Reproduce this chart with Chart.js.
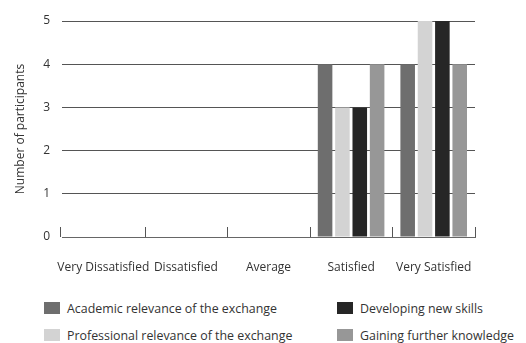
<!DOCTYPE html>
<html>
<head>
<meta charset="utf-8">
<script src="https://cdn.jsdelivr.net/npm/chart.js@4/dist/chart.umd.min.js"></script>
<style>
  html, body { margin: 0; padding: 0; background: #fff; }
  #wrap { position: relative; width: 526px; height: 343px; font-family: "Open Sans", sans-serif; }
  #chart { position: absolute; left: 0; top: 0; }
  #legend { position: absolute; left: 44px; top: 300px; display: grid;
            grid-template-columns: 293px 200px; row-gap: 11px; font-size: 12.4px; color: #333; }
  .item { display: flex; align-items: center; height: 16px; white-space: nowrap; }
  .box { width: 16px; height: 12px; margin-right: 7px; }
</style>
</head>
<body>
<div id="wrap">
  <canvas id="chart" width="526" height="280"></canvas>
  <div id="legend"></div>
</div>
<script>
// Satisfaction ratings given by exchange participants
const categories = ["Very Dissatisfied", "Dissatisfied", "Average", "Satisfied", "Very Satisfied"];
const seriesNames = [
  "Academic relevance of the exchange",
  "Professional relevance of the exchange",
  "Developing new skills",
  "Gaining further knowledge"
];
const academic     = [0, 0, 0, 4, 4];
const professional = [0, 0, 0, 3, 5];
const developing   = [0, 0, 0, 3, 5];
const gaining      = [0, 0, 0, 4, 4];
const yTicks = [0, 1, 2, 3, 4, 5];

const colors = ["#6e6e6e", "#d3d3d3", "#262626", "#979797"];
const values = [academic, professional, developing, gaining];

// Small upward tick marks at the category boundaries on the baseline
const boundaryTicks = {
  id: "boundaryTicks",
  afterDatasetsDraw(chart) {
    const x = chart.scales.x, area = chart.chartArea, ctx = chart.ctx;
    const n = categories.length;
    const bounds = [area.left - 2];
    for (let i = 0; i < n - 1; i++) {
      bounds.push((x.getPixelForValue(i) + x.getPixelForValue(i + 1)) / 2);
    }
    bounds.push(area.right);
    ctx.save();
    ctx.strokeStyle = "#555";
    ctx.lineWidth = 1;
    bounds.forEach(b => {
      const px = Math.round(b) + 0.5;
      ctx.beginPath();
      ctx.moveTo(px, area.bottom);
      ctx.lineTo(px, area.bottom - 10);
      ctx.stroke();
    });
    ctx.restore();
  }
};

const chart = new Chart(document.getElementById("chart"), {
  type: "bar",
  data: {
    labels: categories,
    datasets: seriesNames.map((name, i) => ({
      label: name,
      data: values[i],
      backgroundColor: colors[i],
      borderWidth: 0,
      categoryPercentage: 0.84,
      barPercentage: 0.84
    }))
  },
  options: {
    responsive: false,
    animation: false,
    layout: { padding: { top: 21, right: 51, left: 0, bottom: 0 } },
    plugins: { legend: { display: false }, tooltip: { enabled: false } },
    scales: {
      x: {
        grid: { display: false, drawTicks: false },
        border: { display: true, color: "#666", width: 1 },
        ticks: { padding: 23, color: "#333", font: { family: "Open Sans", size: 12 },
                 maxRotation: 0, autoSkip: false },
        afterFit(s) { s.height = 43; }
      },
      y: {
        min: 0, max: 5,
        afterBuildTicks(s) { s.ticks = yTicks.map(v => ({ value: v })); },
        grid: { color: ctx => ctx.tick && ctx.tick.value === 0 ? "rgba(0,0,0,0)" : "#555", drawTicks: false, lineWidth: 1 },
        border: { display: false },
        ticks: { padding: 12, color: "#333", font: { family: "Open Sans", size: 12 } },
        title: { display: true, text: "Number of participants", color: "#333",
                 font: { family: "Open Sans", size: 12 }, padding: { top: 13, bottom: 0 } },
        afterFit(s) { s.width = 62; }
      }
    }
  },
  plugins: [boundaryTicks]
});

// Two-column legend built from the series
const legend = document.getElementById("legend");
[0, 2, 1, 3].forEach(i => {
  const item = document.createElement("div");
  item.className = "item";
  const box = document.createElement("span");
  box.className = "box";
  box.style.background = colors[i];
  const txt = document.createElement("span");
  txt.textContent = seriesNames[i];
  item.appendChild(box);
  item.appendChild(txt);
  legend.appendChild(item);
});
</script>
</body>
</html>
